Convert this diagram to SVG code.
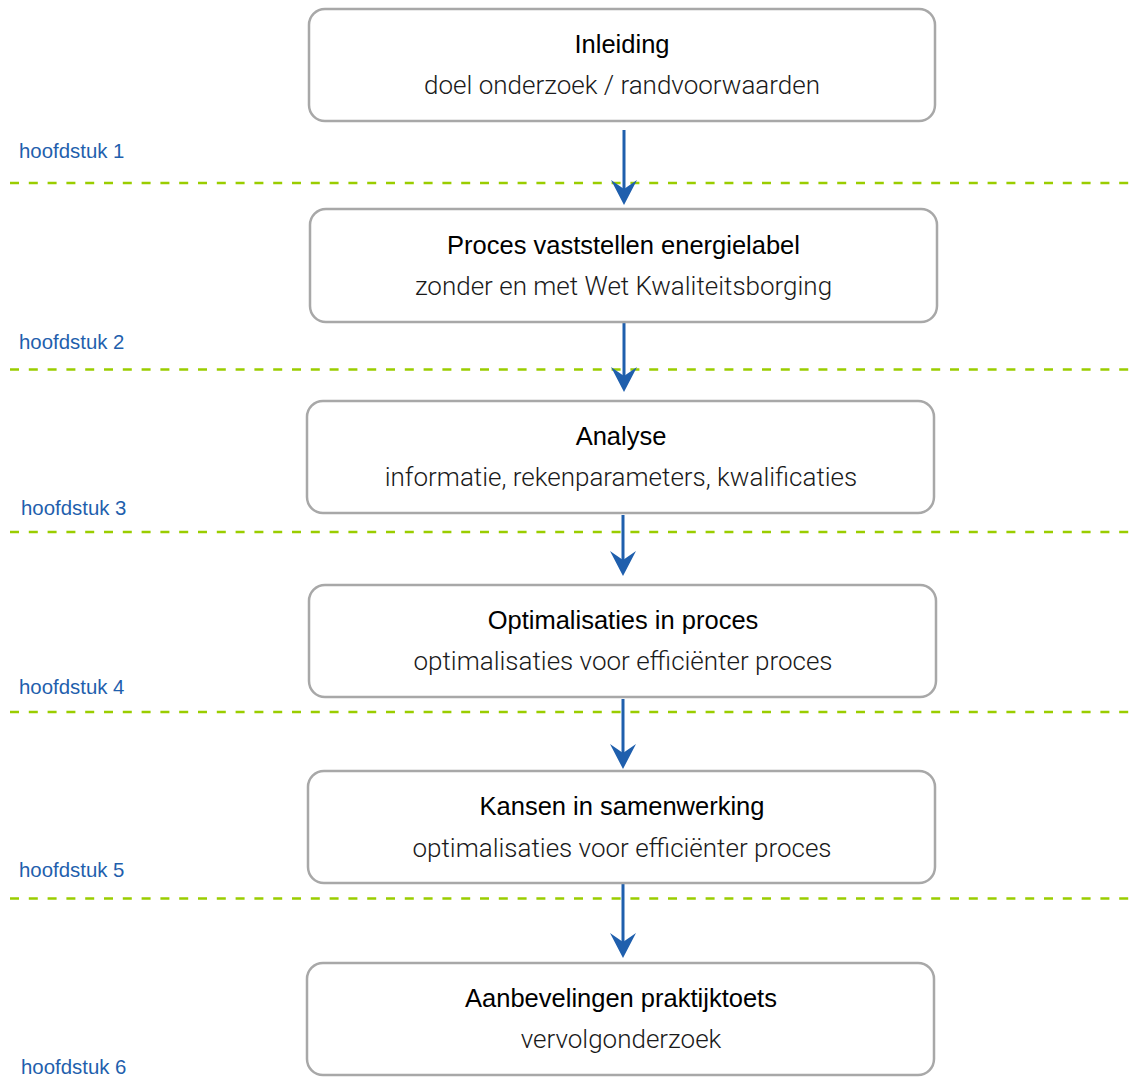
<svg xmlns="http://www.w3.org/2000/svg" width="1133" height="1091" viewBox="0 0 1133 1091">
  <style>
    .box { fill: #ffffff; stroke: #a8a8a8; stroke-width: 2.5; }
    .title { font-family: "Liberation Sans", Arial, sans-serif; font-size: 25.5px; fill: #000000; text-anchor: middle; }
    .sub { font-family: Roboto, "Liberation Sans", sans-serif; font-weight: 300; font-size: 26px; fill: #1a1a1a; text-anchor: middle; }
    .chapter { font-family: "Liberation Sans", Arial, sans-serif; font-size: 20.4px; fill: #1f5fad; }
    .divider { stroke: #9acd00; stroke-width: 2.5; stroke-dasharray: 9 9.8; fill: none; }
    .flow { stroke: #1f5fad; stroke-width: 3; fill: none; marker-end: url(#head); }
  </style>
  <defs>
    <marker id="head" markerUnits="userSpaceOnUse" markerWidth="26" markerHeight="26" viewBox="0 0 26 26" refX="15" refY="13" orient="auto">
      <path d="M0,0 L25,13 L0,26 L9,13 Z" fill="#1f5fad"/>
    </marker>
  </defs>

  <!-- chapter separators -->
  <g id="dividers">
    <line class="divider" x1="10" y1="183" x2="1133" y2="183"/>
    <line class="divider" x1="10" y1="369.5" x2="1133" y2="369.5"/>
    <line class="divider" x1="10" y1="532" x2="1133" y2="532"/>
    <line class="divider" x1="10" y1="712" x2="1133" y2="712"/>
    <line class="divider" x1="10" y1="898.5" x2="1133" y2="898.5"/>
  </g>

  <!-- chapter labels -->
  <g id="chapters">
    <text class="chapter" x="19" y="158">hoofdstuk 1</text>
    <text class="chapter" x="19" y="349">hoofdstuk 2</text>
    <text class="chapter" x="21" y="515">hoofdstuk 3</text>
    <text class="chapter" x="19" y="694">hoofdstuk 4</text>
    <text class="chapter" x="19" y="877">hoofdstuk 5</text>
    <text class="chapter" x="21" y="1074">hoofdstuk 6</text>
  </g>

  <!-- connectors -->
  <g id="connectors">
    <line class="flow" x1="624" y1="130" x2="624" y2="195"/>
    <line class="flow" x1="624" y1="318" x2="624" y2="382"/>
    <line class="flow" x1="623" y1="515" x2="623" y2="566"/>
    <line class="flow" x1="623" y1="699" x2="623" y2="759"/>
    <line class="flow" x1="623" y1="884" x2="623" y2="948"/>
  </g>

  <g id="inleiding">
    <rect class="box" x="309" y="9" width="626" height="112" rx="16"/>
    <text class="title" x="622" y="53">Inleiding</text>
    <text class="sub" x="622" y="94">doel onderzoek / randvoorwaarden</text>
  </g>

  <g id="proces">
    <rect class="box" x="310" y="209" width="627" height="113" rx="16"/>
    <text class="title" x="623.5" y="254">Proces vaststellen energielabel</text>
    <text class="sub" x="623.5" y="295">zonder en met Wet Kwaliteitsborging</text>
  </g>

  <g id="analyse">
    <rect class="box" x="307" y="401" width="627" height="112" rx="16"/>
    <text class="title" x="621" y="445">Analyse</text>
    <text class="sub" x="621" y="486">informatie, rekenparameters, kwalificaties</text>
  </g>

  <g id="optimalisaties">
    <rect class="box" x="309" y="585" width="627" height="112" rx="16"/>
    <text class="title" x="623" y="629">Optimalisaties in proces</text>
    <text class="sub" x="623" y="670">optimalisaties voor efficiënter proces</text>
  </g>

  <g id="kansen">
    <rect class="box" x="308" y="771" width="627" height="112" rx="16"/>
    <text class="title" x="622" y="815">Kansen in samenwerking</text>
    <text class="sub" x="622" y="857">optimalisaties voor efficiënter proces</text>
  </g>

  <g id="aanbevelingen">
    <rect class="box" x="307" y="963" width="627" height="112" rx="16"/>
    <text class="title" x="621" y="1007">Aanbevelingen praktijktoets</text>
    <text class="sub" x="621" y="1048">vervolgonderzoek</text>
  </g>
</svg>
